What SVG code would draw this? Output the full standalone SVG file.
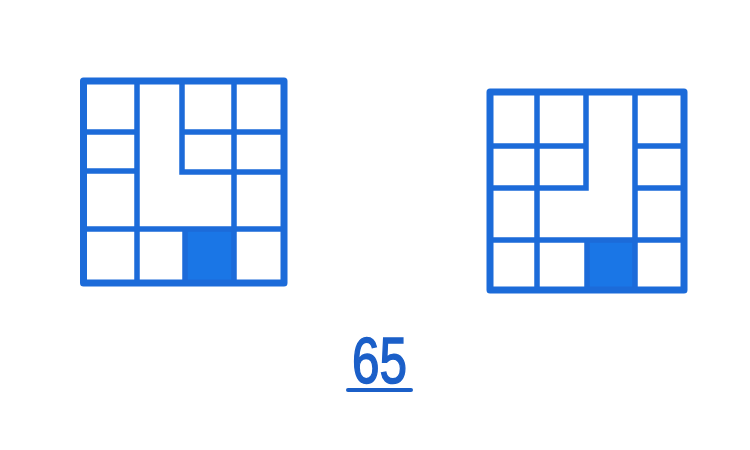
<svg xmlns="http://www.w3.org/2000/svg" width="750" height="450" viewBox="0 0 750 450">
<style>
.g{fill:none;stroke:#1c6bd9;stroke-width:5.5;stroke-linecap:square}
.o{fill:none;stroke:#1c6bd9;stroke-width:7;stroke-linejoin:round}
.f{fill:#1a76e6}
.t{font-family:"Liberation Sans",Arial,sans-serif;font-size:64px;fill:#1b5fc8;stroke:#1b5fc8;stroke-width:1.6}
</style>
<rect width="750" height="450" fill="#ffffff"/>
<g id="figure-left">
<rect class="f" x="185" y="229" width="49" height="54"/>
<path class="g" d="M137 81V283M182 81V172M185 229V283M234 81V283M83.5 132H137M182 132H284M83.5 171H137M182 172H284M83.5 229H284"/>
<rect class="o" x="83.5" y="81" width="200.5" height="202"/>
</g>
<g id="figure-right">
<rect class="f" x="587" y="240" width="48" height="50"/>
<path class="g" d="M537 92V290M586 92V188M587 240V290M635 92V290M490 146H586M635 146H684M490 188H586M635 188H684M490 240H684"/>
<rect class="o" x="490" y="92" width="194" height="198"/>
</g>
<g id="label">
<text class="t" x="352" y="383" textLength="55" lengthAdjust="spacingAndGlyphs">65</text>
<line x1="348" y1="390" x2="411" y2="390" stroke="#1b5fc8" stroke-width="4" stroke-linecap="round"/>
</g>
</svg>
